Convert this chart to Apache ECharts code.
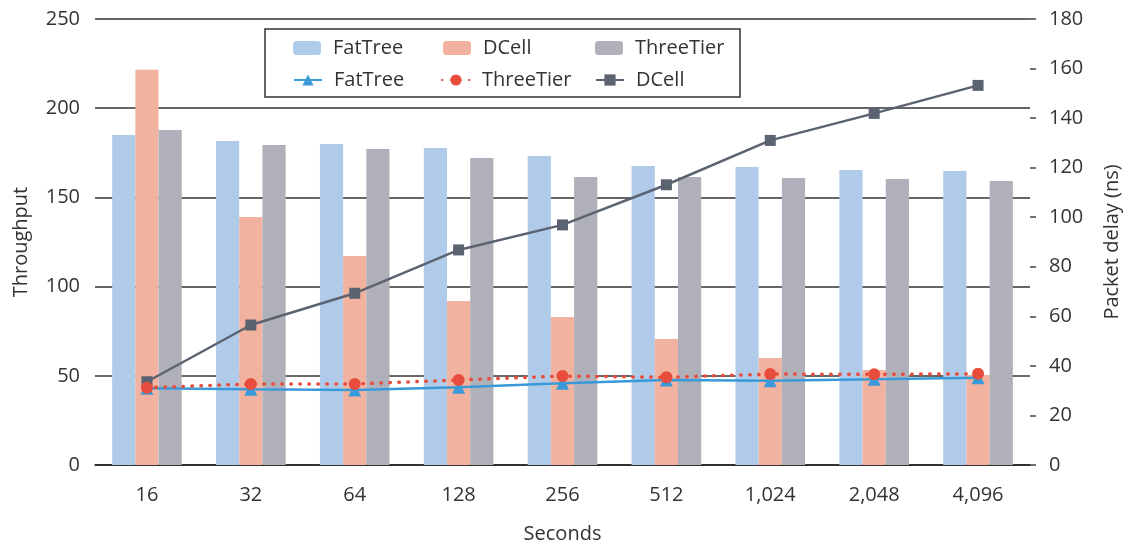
<!DOCTYPE html>
<html>
<head>
<meta charset="utf-8">
<script src="https://cdn.jsdelivr.net/npm/echarts@6/dist/echarts.min.js"></script>
<style>html,body{margin:0;padding:0;background:#fff;}#c{width:1124px;height:544px;}</style>
</head>
<body>
<div id="c"></div>
<script>
const categories = ['16','32','64','128','256','512','1,024','2,048','4,096'];
const leftTicks = [0, 50, 100, 150, 200, 250];
const rightTicks = [0, 20, 40, 60, 80, 100, 120, 140, 160, 180];
const barFatTree = [185, 181.6, 180, 177.7, 173.2, 167.6, 167, 165.4, 164.8];
const barDCell = [221.5, 139, 117.2, 91.9, 83, 70.6, 60, 53.3, 50.4];
const barThreeTier = [187.8, 179.4, 177.1, 172.1, 161.4, 161.4, 160.9, 160.3, 159.2];
const lineFatTree = [31, 30.6, 30.3, 31.4, 33, 34.3, 34, 34.6, 35.2];
const lineThreeTier = [31.2, 32.7, 32.7, 34.3, 35.9, 35.4, 36.7, 36.6, 36.8];
const lineDCell = [33.6, 56.5, 69.3, 86.8, 96.9, 113.1, 131, 141.9, 153.2];

const FONT = 'Open Sans';
const FS = 20;
const TXT = '#333';
const C_FT_BAR = '#B0CBE9', C_DC_BAR = '#F2B2A0', C_TT_BAR = '#B0B0BA';
const C_FT_LINE = '#3A9AD9', C_TT_LINE = '#E74C3C', C_DC_LINE = '#5B6370';

function lg(name, left, top) {
  return {
    data: [name], left: left, top: top, padding: 0,
    itemWidth: 28, itemHeight: 14, selectedMode: false,
    formatter: n => n.trim(),
    textStyle: { fontFamily: FONT, fontSize: FS, color: TXT, padding: [0, 0, 0, 7] }
  };
}

const chart = echarts.init(document.getElementById('c'), null, { renderer: 'canvas' });
chart.setOption({
  animation: false,
  textStyle: { fontFamily: FONT },
  grid: { left: 95, right: 94, top: 19, bottom: 79, containLabel: false, outerBoundsMode: 'none' },
  legend: [
    lg('FatTree', 293, 38),
    lg('DCell', 443, 38),
    lg('ThreeTier', 595, 38),
    lg('FatTree ', 293, 70),
    lg('ThreeTier ', 441, 70),
    lg('DCell ', 595, 70)
  ],
  graphic: [{
    type: 'rect', shape: { x: 265, y: 29, width: 475, height: 68 },
    style: { fill: 'none', stroke: '#333', lineWidth: 1.5 }, z: 10
  }],
  xAxis: {
    type: 'category', data: categories,
    axisTick: { show: false },
    axisLine: { lineStyle: { color: '#222', width: 1.5 } },
    axisLabel: { fontFamily: FONT, fontSize: FS, color: TXT, margin: 20 },
    name: 'Seconds', nameLocation: 'middle', nameGap: 59,
    nameTextStyle: { fontFamily: FONT, fontSize: FS, color: TXT }
  },
  yAxis: [{
    type: 'value', min: leftTicks[0], max: leftTicks[leftTicks.length - 1], interval: 50,
    axisLine: { show: false }, axisTick: { show: false },
    axisLabel: { fontFamily: FONT, fontSize: FS, color: TXT, margin: 15 },
    splitLine: { lineStyle: { color: '#333', width: 1.5 } },
    name: 'Throughput', nameLocation: 'middle', nameGap: 64, nameRotate: 90,
    nameTextStyle: { fontFamily: FONT, fontSize: FS, color: TXT }
  }, {
    type: 'value', position: 'right', min: rightTicks[0], max: rightTicks[rightTicks.length - 1], interval: 20,
    axisLine: { show: false },
    axisTick: { show: true, length: 6, lineStyle: { color: '#444', width: 1.5 } },
    axisLabel: { fontFamily: FONT, fontSize: FS, color: TXT, margin: 19 },
    splitLine: { show: false },
    name: 'Packet delay (ns)', nameLocation: 'middle', nameGap: 72, nameRotate: 90,
    nameTextStyle: { fontFamily: FONT, fontSize: FS, color: TXT }
  }],
  series: [
    { name: 'FatTree', type: 'bar', data: barFatTree, itemStyle: { color: C_FT_BAR }, barGap: '0%', barCategoryGap: '33%', yAxisIndex: 0 },
    { name: 'DCell', type: 'bar', data: barDCell, itemStyle: { color: C_DC_BAR }, barGap: '0%', barCategoryGap: '33%', yAxisIndex: 0 },
    { name: 'ThreeTier', type: 'bar', data: barThreeTier, itemStyle: { color: C_TT_BAR }, barGap: '0%', barCategoryGap: '33%', yAxisIndex: 0 },
    { name: 'DCell ', type: 'line', yAxisIndex: 1, data: lineDCell, symbol: 'rect', symbolSize: 11,
      lineStyle: { color: C_DC_LINE, width: 2.5 }, itemStyle: { color: C_DC_LINE }, z: 3 },
    { name: 'FatTree ', type: 'line', yAxisIndex: 1, data: lineFatTree, symbol: 'triangle', symbolSize: 13,
      lineStyle: { color: C_FT_LINE, width: 2.5 }, itemStyle: { color: C_FT_LINE }, z: 4 },
    { name: 'ThreeTier ', type: 'line', yAxisIndex: 1, data: lineThreeTier, symbol: 'circle', symbolSize: 12,
      lineStyle: { color: C_TT_LINE, width: 3.5, type: [0.5, 8.5], cap: 'round' }, itemStyle: { color: C_TT_LINE }, z: 5 }
  ]
});
</script>
</body>
</html>
